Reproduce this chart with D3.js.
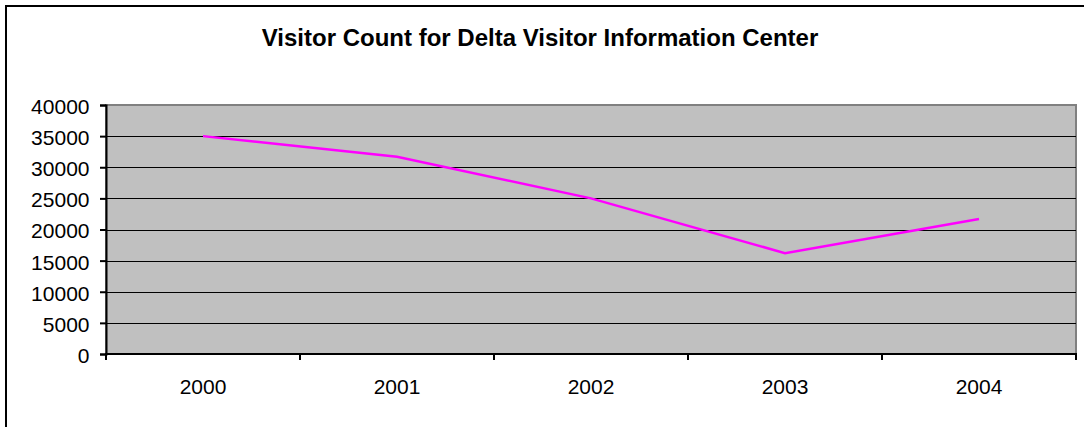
<!DOCTYPE html>
<html>
<head>
<meta charset="utf-8">
<script src="https://cdn.jsdelivr.net/npm/d3@7"></script>
<style>
  body { margin: 0; background: #fff; }
  svg { display: block; font-family: "Liberation Sans", Arial, sans-serif; }
</style>
</head>
<body>
<div id="chart"></div>
<script>
const years = ["2000", "2001", "2002", "2003", "2004"];
const visitors = [35000, 31700, 25000, 16200, 21700];
const yTicks = [0, 5000, 10000, 15000, 20000, 25000, 30000, 35000, 40000];

const WIDTH = 1084;
const HEIGHT = 427;
const PLOT_LEFT = 106;
const PLOT_RIGHT = 1076;
const PLOT_TOP = 105;
const PLOT_BOTTOM = 354;
const LABEL_SIZE = 21;

const svg = d3.select('#chart').append('svg')
    .attr('width', WIDTH)
    .attr('height', HEIGHT);

// outer chart border (runs off the right and bottom edges)
svg.append('rect')
    .attr('x', 6)
    .attr('y', 6)
    .attr('width', WIDTH + 10)
    .attr('height', HEIGHT + 10)
    .attr('fill', 'none')
    .attr('stroke', '#000')
    .attr('stroke-width', 2);

svg.append('text')
    .attr('x', 540)
    .attr('y', 46)
    .attr('text-anchor', 'middle')
    .attr('font-weight', 'bold')
    .attr('font-size', 24)
    .text('Visitor Count for Delta Visitor Information Center');

const x = d3.scaleBand()
    .domain(years)
    .range([PLOT_LEFT, PLOT_RIGHT]);

const y = d3.scaleLinear()
    .domain([0, 40000])
    .range([PLOT_BOTTOM, PLOT_TOP]);

svg.append('rect')
    .attr('x', PLOT_LEFT)
    .attr('y', PLOT_TOP)
    .attr('width', PLOT_RIGHT - PLOT_LEFT)
    .attr('height', PLOT_BOTTOM - PLOT_TOP)
    .attr('fill', '#c0c0c0')
    .attr('stroke', '#808080')
    .attr('stroke-width', 2);

svg.selectAll('.grid')
    .data(yTicks.filter(t => t > 0 && t < 40000))
    .join('line')
    .attr('class', 'grid')
    .attr('x1', PLOT_LEFT)
    .attr('x2', PLOT_RIGHT)
    .attr('y1', d => Math.round(y(d)) + 0.5)
    .attr('y2', d => Math.round(y(d)) + 0.5)
    .attr('stroke', '#000')
    .attr('stroke-width', 1);

// y axis
const yAxis = svg.append('g')
    .attr('transform', `translate(${PLOT_LEFT},0)`)
    .call(d3.axisLeft(y).tickValues(yTicks).tickSize(6).tickFormat(d3.format('d')));
yAxis.select('.domain').attr('stroke', '#000').attr('stroke-width', 2);
yAxis.selectAll('.tick line').attr('stroke', '#000').attr('stroke-width', 2);
yAxis.selectAll('text')
    .attr('x', -16.5)
    .attr('dy', '0.4em')
    .attr('font-size', LABEL_SIZE)
    .attr('fill', '#000')
    .attr('font-family', '"Liberation Sans", Arial, sans-serif');

// x axis with ticks on category boundaries
const xAxis = svg.append('g')
    .attr('transform', `translate(0,${PLOT_BOTTOM})`);
xAxis.append('line')
    .attr('x1', PLOT_LEFT - 1)
    .attr('x2', PLOT_RIGHT + 1)
    .attr('stroke', '#000')
    .attr('stroke-width', 2);
xAxis.selectAll('.xtick')
    .data(years)
    .join('line')
    .attr('class', 'xtick')
    .attr('x1', d => x(d) + x.bandwidth())
    .attr('x2', d => x(d) + x.bandwidth())
    .attr('y1', 0)
    .attr('y2', 6)
    .attr('stroke', '#000')
    .attr('stroke-width', 2);
xAxis.append('line')
    .attr('x1', PLOT_LEFT).attr('x2', PLOT_LEFT)
    .attr('y1', 0).attr('y2', 6)
    .attr('stroke', '#000').attr('stroke-width', 2);
xAxis.selectAll('.xlabel')
    .data(years)
    .join('text')
    .attr('class', 'xlabel')
    .attr('x', d => x(d) + x.bandwidth() / 2)
    .attr('y', 40)
    .attr('text-anchor', 'middle')
    .attr('font-size', LABEL_SIZE)
    .text(d => d);

const line = d3.line()
    .x((d, i) => x(years[i]) + x.bandwidth() / 2)
    .y(d => y(d));

svg.append('path')
    .datum(visitors)
    .attr('d', line)
    .attr('fill', 'none')
    .attr('stroke', '#ff00ff')
    .attr('stroke-width', 2.5);
</script>
</body>
</html>
